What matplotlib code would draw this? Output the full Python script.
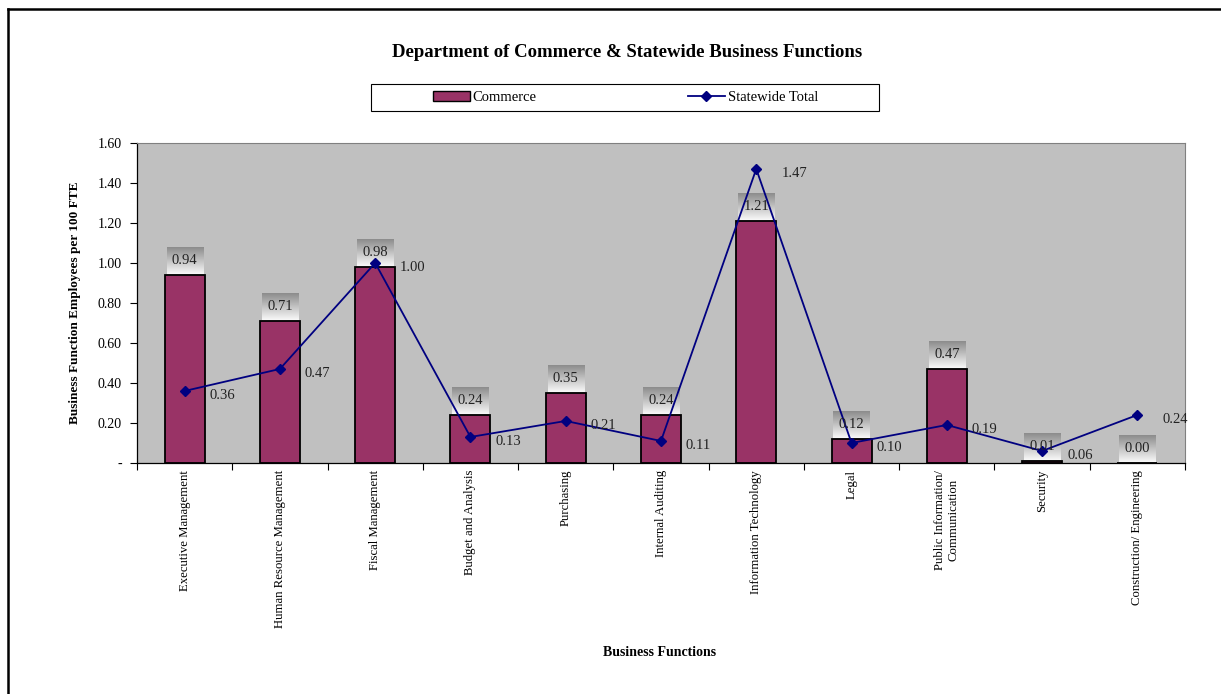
"""Commerce vs statewide business-function staffing chart."""
import numpy as np
import matplotlib

matplotlib.use("Agg")
import matplotlib.pyplot as plt  # noqa: E402
from matplotlib.lines import Line2D  # noqa: E402
from matplotlib.patches import Patch, Rectangle  # noqa: E402

functions = [
    "Executive Management",
    "Human Resource Management",
    "Fiscal Management",
    "Budget and Analysis",
    "Purchasing",
    "Internal Auditing",
    "Information Technology",
    "Legal",
    "Public Information/\nCommunication",
    "Security",
    "Construction/ Engineering",
]
commerce = [0.94, 0.71, 0.98, 0.24, 0.35, 0.24, 1.21, 0.12, 0.47, 0.01, 0.00]
statewide = [0.36, 0.47, 1.00, 0.13, 0.21, 0.11, 1.47, 0.10, 0.19, 0.06, 0.24]
yticks = [0.0, 0.2, 0.4, 0.6, 0.8, 1.0, 1.2, 1.4, 1.6]

plt.rcParams["font.family"] = ["Liberation Serif", "DejaVu Serif"]

W, H = 1221, 694
fig = plt.figure(figsize=(W / 100, H / 100), dpi=100)
ax = fig.add_axes([0.1122, 0.3329, 0.8583, 0.4611])
ax.set_facecolor("#c0c0c0")

x = np.arange(len(functions))
ax.bar(x, commerce, width=0.42, color="#993366", edgecolor="black", linewidth=1.3, zorder=2)
ax.plot(x, statewide, color="#000080", linewidth=1.3, marker="D", markersize=5,
        zorder=4)

# gradient boxes behind the bar value labels
grad = np.linspace(0.55, 0.97, 64).reshape(-1, 1)
for xi, v in zip(x, commerce):
    x0, x1 = xi - 0.19, xi + 0.19
    y0, y1 = v + 0.005, v + 0.135
    ax.imshow(grad, cmap="gray", vmin=0, vmax=1, extent=(x0, x1, y0, y1),
              origin="upper", aspect="auto", zorder=3, interpolation="bilinear")
    ax.text(xi, (y0 + y1) / 2, f"{v:.2f}", ha="center", va="center",
            fontsize=10.5, color="#222222", zorder=5)

for xi, v in zip(x, statewide):
    ax.annotate(f"{v:.2f}", (xi, v), xytext=(18, -3), textcoords="offset points",
                ha="left", va="center", fontsize=10.5, color="#222222", zorder=5)

ax.set_xlim(-0.5, len(functions) - 0.5)
ax.set_ylim(0, 1.6)
ax.set_yticks(yticks)
ax.set_yticklabels(["-"] + [f"{t:.2f}" for t in yticks[1:]], fontsize=10)
ax.set_xticks(x)
ax.set_xticklabels(functions, rotation=90, fontsize=9.2, va="top", ha="center",
                   multialignment="center")
ax.set_xticks(np.arange(len(functions) + 1) - 0.5, minor=True)
ax.tick_params(axis="x", which="major", length=0, pad=5)
ax.tick_params(axis="x", which="minor", length=5, direction="out", width=0.8)
ax.tick_params(axis="y", length=5, direction="out", width=0.8, pad=6)

for side in ("top", "right"):
    ax.spines[side].set_color("#808080")
    ax.spines[side].set_linewidth(0.8)
for side in ("left", "bottom"):
    ax.spines[side].set_color("black")
    ax.spines[side].set_linewidth(0.9)

ax.set_ylabel("Business Function Employees per 100 FTE", fontsize=9.5,
              fontweight="bold", labelpad=12)
fig.text(0.5405, 0.06, "Business Functions", ha="center", va="center",
         fontsize=10, fontweight="bold")
fig.text(0.5135, 0.924, "Department of Commerce & Statewide Business Functions",
         ha="center", va="center", fontsize=13.5, fontweight="bold")

# legend: entries without a frame, plus a wide box drawn separately
handles = [
    Patch(facecolor="#993366", edgecolor="black", linewidth=1.0),
    Line2D([0], [0], color="#000080", marker="D", markersize=5, linewidth=1.3),
]
fig.legend(handles, ["Commerce", "Statewide Total"], loc="center",
           bbox_to_anchor=(0.5123, 0.859), ncol=2, fontsize=10.5,
           frameon=False, columnspacing=10.4, handlelength=2.5,
           handletextpad=0.2, borderpad=0, borderaxespad=0)
fig.add_artist(Rectangle((371 / W, 1 - 111 / H), 508 / W, 27 / H,
                         transform=fig.transFigure, fill=False,
                         edgecolor="black", linewidth=0.8))

# page frame: only the top and left edges fall inside the image
fig.add_artist(Line2D([0.0065, 1.0], [0.987, 0.987], transform=fig.transFigure,
                      color="black", linewidth=1.8))
fig.add_artist(Line2D([0.0065, 0.0065], [0.0, 0.987], transform=fig.transFigure,
                      color="black", linewidth=1.8))

fig.savefig("out.png", dpi=100)
